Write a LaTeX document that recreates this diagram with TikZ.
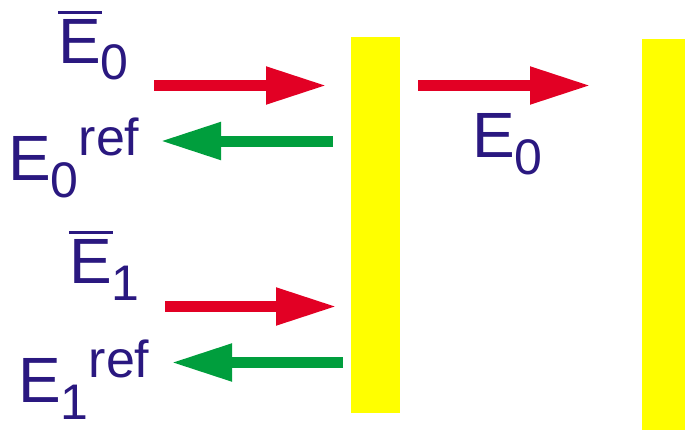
\documentclass[tikz,border=0pt]{standalone}
\usepackage{fontspec}
\setmainfont{Liberation Sans}
\usetikzlibrary{arrows.meta,positioning}

\definecolor{txtblue}{RGB}{42,24,128}
\definecolor{beamred}{RGB}{226,0,36}
\definecolor{beamgreen}{RGB}{0,158,61}
\definecolor{mirror}{RGB}{255,255,0}

% bar over a letter, subscript and superscript as drawn
\newcommand{\ovl}[1]{\rlap{\rule[0.765em]{0.69em}{0.047em}}#1}
\newcommand{\lsub}[1]{\raisebox{-17pt}{\fontsize{50}{50}\selectfont #1}}
\newcommand{\lsup}[1]{\raisebox{25pt}{\fontsize{52}{52}\selectfont #1}}

\tikzset{
  lbl/.style={inner sep=0pt, anchor=base west, text=txtblue, font=\fontsize{64}{64}\selectfont},
  plate/.style={fill=mirror, inner sep=0pt},
  beam/.style={line width=11pt, -{Triangle[length=61pt,width=35pt]}},
}

\begin{document}
\begin{tikzpicture}[x=1pt,y=-1pt]

\useasboundingbox (0,0) rectangle (685,431);

\node[plate, minimum width=49pt, minimum height=376pt] (p1) at (375.5,225) {};
\node[plate, minimum width=44pt, minimum height=391pt] (p2) at (664,234.5) {};

\node[lbl] (eb0) at (58,63) {\ovl{E}\lsub{0}};
\node[lbl] (er0) at (8,180) {E\lsub{0}\lsup{ref}};
\node[lbl] (eb1) at (69,283) {\ovl{E}\lsub{1}};
\node[lbl] (er1) at (18,402) {E\lsub{1}\lsup{ref}};
\node[lbl] (e0) at (472,157) {E\lsub{0}};

\coordinate (r0a) at (154,85.5);
\coordinate (r0b) at (327,85.5);
\coordinate (g0a) at (333,141);
\coordinate (g0b) at (160,141);
\coordinate (r1a) at (165,306.5);
\coordinate (r1b) at (337,306.5);
\coordinate (g1a) at (343,362.5);
\coordinate (g1b) at (171,362.5);
\coordinate (r2a) at (418,85.5);
\coordinate (r2b) at (591,85.5);

\draw [beam, beamred] (r0a) -- (r0b);
\draw [beam, beamgreen] (g0a) -- (g0b);
\draw [beam, beamred] (r1a) -- (r1b);
\draw [beam, beamgreen] (g1a) -- (g1b);
\draw [beam, beamred] (r2a) -- (r2b);

\end{tikzpicture}
\end{document}
